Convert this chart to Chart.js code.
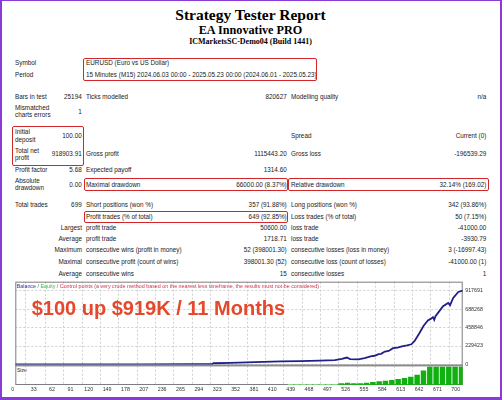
<!DOCTYPE html>
<html><head><meta charset="utf-8">
<script src="https://cdn.jsdelivr.net/npm/chart.js@4.4.1/dist/chart.umd.min.js"></script>
<style>
html,body{margin:0;padding:0;background:#fff;overflow:hidden}
#page{position:relative;width:504px;height:400px;overflow:hidden;background:#fff}
.t{position:absolute;white-space:nowrap;font-family:"Liberation Sans",Arial,sans-serif;font-size:6.35px;line-height:10px;height:10px;color:#1a1a1a}
.h{position:absolute;left:0;width:501px;text-align:center;font-family:"Liberation Serif","Times New Roman",serif;font-weight:bold;color:#000;white-space:nowrap}
.box{position:absolute;border:1.4px solid #d3262a;border-radius:2px;box-sizing:border-box}
#frame{position:absolute;left:0;top:0;width:502px;height:400px;box-sizing:border-box;border-style:solid;border-color:#8a3ad6;border-width:1.7px 2.5px 3px 2.7px;pointer-events:none;z-index:10}
#c{position:absolute;left:0;top:276px;width:504px;height:124px}
</style></head><body><div id="page">
<div class="h" style="top:7px;font-size:15.5px;line-height:15.5px">Strategy Tester Report</div>
<div class="h" style="top:24px;font-size:12.2px;line-height:12.2px">EA Innovative PRO</div>
<div class="h" style="top:38.3px;font-size:8px;line-height:8px">ICMarketsSC-Demo04 (Build 1441)</div>
<canvas id="c" width="504" height="124"></canvas>
<div id="frame"></div>
</div>
<script>
// ---- chart data ----
const xTickValues = [0,33,62,91,120,149,178,207,236,265,294,323,352,381,410,439,468,497,526,555,584,613,642,671,700];
const yTickValues = [0,229423,458846,688268,917691];
const balanceX = [0,100,200,280,311,313,340,366,392,420,450,481,505,516,524,529,542,552,563,568,574,578,584,590,597,604,611,619,626,631,639,645,652,657,660,662,664,668,676,684,687,692,700,707];
const balanceY = [100,400,1200,2500,3500,15000,20000,25000,33000,37000,42000,47000,53500,70000,86000,66000,62000,78000,103000,108000,128000,132000,160000,168000,202000,210000,226000,238000,251000,292000,395000,478000,548000,570000,589000,555000,600000,642000,725000,766000,737000,827000,902000,917691];
const sizeX = [435,445,455,465,475,485,495,505,515,525,535,545,555,565,575,585,595,605,615,625,635,645,655,665,675,685,695,705];
const sizeY = [2.7,2.7,2.7,2.7,2.7,2.7,2.7,2.7,4.5,6.3,4.6,4.6,6.5,8.2,10,11.8,14,16.5,19,22.7,28,40,50,50,50,50,50,50];

// ---- report text ----
const rows = [
 [63.3,[[15,'Symbol'],[86,'EURUSD (Euro vs US Dollar)']]],
 [75.3,[[15,'Period'],[86,'15 Minutes (M15) 2024.06.03 00:00 - 2025.05.23 00:00 (2024.06.01 - 2025.05.23)']]],
 [96.7,[[15,'Bars in test'],[-81.7,'25194'],[86,'Ticks modelled'],[-286.7,'820627'],[291,'Modelling quality'],[-486.3,'n/a']]],
 [107.7,[[15,'Mismatched']]],
 [115.3,[[15,'charts errors']]],
 [112,[[-81.7,'1']]],
 [132,[[15,'Initial']]],
 [139.7,[[15,'deposit']]],
 [135.7,[[-81.7,'100.00'],[291,'Spread'],[-486.3,'Current (0)']]],
 [150.7,[[15,'Total net']]],
 [158.3,[[15,'profit']]],
 [154.3,[[-81.7,'918903.91'],[86,'Gross profit'],[-286.7,'1115443.20'],[291,'Gross loss'],[-486.3,'-196539.29']]],
 [169.7,[[15,'Profit factor'],[-81.7,'5.68'],[86,'Expected payoff'],[-286.7,'1314.60']]],
 [180.7,[[15,'Absolute']]],
 [188.3,[[15,'drawdown']]],
 [184.7,[[-81.7,'0.00'],[86,'Maximal drawdown'],[-286.7,'66000.00 (8.37%)'],[291,'Relative drawdown'],[-486.3,'32.14% (169.02)']]],
 [205,[[15,'Total trades'],[-81.7,'699'],[86,'Short positions (won %)'],[-286.7,'357 (91.88%)'],[291,'Long positions (won %)'],[-486.3,'342 (93.86%)']]],
 [216.7,[[86,'Profit trades (% of total)'],[-286.7,'649 (92.85%)'],[291,'Loss trades (% of total)'],[-486.3,'50 (7.15%)']]],
 [228,[[-82,'Largest'],[86,'profit trade'],[-286.7,'50600.00'],[291,'loss trade'],[-486.3,'-41000.00']]],
 [239,[[-82,'Average'],[86,'profit trade'],[-286.7,'1718.71'],[291,'loss trade'],[-486.3,'-3930.79']]],
 [250.3,[[-82,'Maximum'],[86,'consecutive wins (profit in money)'],[-286.7,'52 (398001.30)'],[291,'consecutive losses (loss in money)'],[-486.3,'3 (-16997.43)']]],
 [261.7,[[-82,'Maximal'],[86,'consecutive profit (count of wins)'],[-286.7,'398001.30 (52)'],[291,'consecutive loss (count of losses)'],[-486.3,'-41000.00 (1)']]],
 [273.7,[[-82,'Average'],[86,'consecutive wins'],[-286.7,'15'],[291,'consecutive losses'],[-486.3,'1']]]
];
const redBoxes = [[83,57.7,316.5,81.3],[11.7,126,84,166],[84,177.8,288.3,191.3],[288.3,177.8,489.5,191.3],[84.3,210.5,288.3,223.3]];

const page = document.getElementById('page');
const canvasEl = document.getElementById('c');
function addText(x, yc, txt, cls, extra){
  const d = document.createElement('div');
  d.className = cls || 't';
  d.textContent = txt;
  d.style.top = (yc - 5.2) + 'px';
  if (x < 0) d.style.right = (504 + x) + 'px'; else d.style.left = x + 'px';
  if (extra) Object.assign(d.style, extra);
  page.insertBefore(d, canvasEl);
  return d;
}
rows.forEach(([y, cells]) => cells.forEach(([x, s]) => addText(x, y, s)));
redBoxes.forEach(([x1,y1,x2,y2]) => {
  const b = document.createElement('div'); b.className='box';
  Object.assign(b.style,{left:x1+'px',top:y1+'px',width:(x2-x1)+'px',height:(y2-y1)+'px'});
  page.insertBefore(b, canvasEl);
});

// chart overlay texts
const lg = document.createElement('div');
lg.className='t';
Object.assign(lg.style,{left:'16.7px',top:'281px',fontSize:'5.35px'});
lg.innerHTML = '<span style="color:#2e2e9e">Balance</span><span style="color:#666"> / </span><span style="color:#3cb44b">Equity</span><span style="color:#d2304e"> / Control points (a very crude method based on the nearest less timeframe, the results must not be considered)</span>';
page.appendChild(lg);
const big = document.createElement('div');
big.textContent = '$100 up $919K / 11 Months';
Object.assign(big.style,{position:'absolute',left:'31.7px',top:'297.6px',fontFamily:'"Liberation Sans",Arial,sans-serif',fontWeight:'bold',fontSize:'20px',lineHeight:'20px',color:'#e5482a',whiteSpace:'nowrap'});
page.appendChild(big);
addText(17, 370, 'Size', 't', {fontSize:'5px'});

const framePlugin = {
  id:'framePlugin',
  beforeDatasetsDraw(chart){
    const {ctx, chartArea:a} = chart;
    const ys = chart.scales.y;
    ctx.save();
    ctx.strokeStyle = '#7d7d7d'; ctx.lineWidth = 1;
    ctx.strokeRect(a.left + 0.5, a.top + 0.5, a.width - 1, a.height - 1);
    ctx.fillStyle = '#8c8c8c';
    ctx.fillRect(a.left, ys.bottom, a.width, 2);
    ctx.restore();
  }
};

const tickFont = {family:'"Liberation Sans", Arial, sans-serif', size:5.3};
new Chart(canvasEl, {
  type:'line',
  data:{datasets:[
    {type:'line', data: balanceX.map((x,i)=>({x, y: balanceY[i]})), yAxisID:'y', xAxisID:'x',
     borderColor:'#20208a', borderWidth:1.8, pointRadius:0, tension:0, fill:false},
    {type:'bar', data: sizeX.map((x,i)=>({x, y: sizeY[i]})), yAxisID:'ys', xAxisID:'x',
     backgroundColor: c => (c.raw && c.raw.y < 3) ? '#86d886' : '#0fb00f',
     barPercentage:0.86, categoryPercentage:1, borderWidth:0}
  ]},
  options:{
    responsive:false, animation:false, parsing:true,
    plugins:{legend:{display:false}, tooltip:{enabled:false}},
    layout:{padding:{left:15.3, top:5, right:5.3, bottom:3}},
    scales:{
      x:{type:'linear', min:0, max:707, offset:false,
         afterBuildTicks: s => { s.ticks = xTickValues.map(v => ({value:v})); },
         afterFit: s => { s.height = 12; },
         ticks:{autoSkip:false, maxRotation:0, minRotation:0, font:tickFont, color:'#333', padding:1, labelOffset:-2.5, callback: v => String(v)},
         grid:{color:'#c4c4c4', lineWidth:0.8, drawTicks:false},
         border:{display:false, dash:[2,2]}},
      y:{type:'linear', position:'right', stack:'v', stackWeight:83.3, min:0, max:1030000,
         afterBuildTicks: s => { s.ticks = yTickValues.map(v => ({value:v})); },
         afterFit: s => { s.width = 36; },
         ticks:{font:tickFont, color:'#333', padding:2.5, callback: v => String(v)},
         grid:{color:'#c4c4c4', lineWidth:0.8, drawTicks:false},
         border:{display:false, dash:[2,2]}},
      ys:{type:'linear', position:'right', stack:'v', stackWeight:20.7, min:0, max:56.5,
         afterFit: s => { s.width = 36; },
         ticks:{display:false}, grid:{display:false, drawTicks:false}, border:{display:false}}
    }
  },
  plugins:[framePlugin]
});
</script>
</body></html>
